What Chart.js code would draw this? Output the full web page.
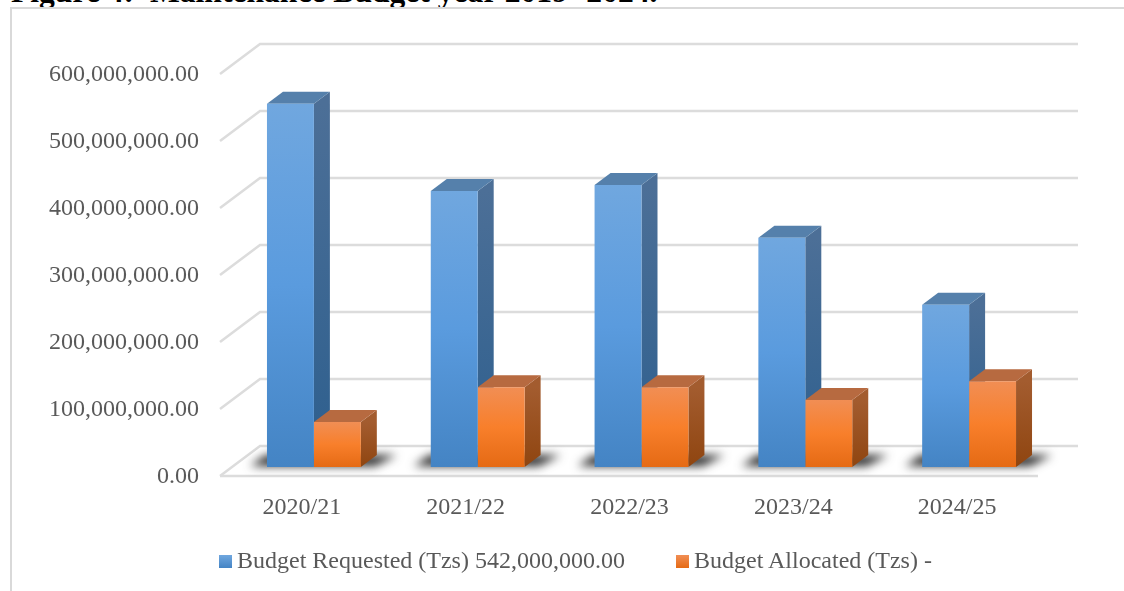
<!DOCTYPE html>
<html>
<head>
<meta charset="utf-8">
<title>Maintenance Budget</title>
<script src="https://cdn.jsdelivr.net/npm/chart.js@4"></script>
<style>
  html, body { margin: 0; padding: 0; background: #fff; overflow: hidden; }
  #wrap { position: relative; width: 1124px; height: 591px; overflow: hidden; font-family: "Liberation Serif", serif; }
  #heading { position: absolute; left: 11px; top: -26px; font-size: 31.6px; font-weight: bold; color: #000; white-space: pre; }
  #frame { position: absolute; left: 10px; top: 7px; width: 1114px; height: 584px; border-left: 2px solid #d9d9d9; border-top: 2px solid #d9d9d9; box-sizing: border-box; }
  canvas { position: absolute; left: 0; top: 0; }
  .key { position: absolute; top: 547px; font-size: 24px; color: #595959; white-space: nowrap; }
  .key i { position: absolute; left: -18px; top: 8px; width: 13px; height: 13px; }
</style>
</head>
<body>
<div id="wrap">
  <div id="heading">Figure 4:  Maintenance Budget year 2019- 2024.</div>
  <div id="frame"></div>
  <canvas id="myChart" width="1124" height="591"></canvas>
  <div id="legend"></div>
</div>
<script>
// labels along the x-axis
var years = ["2020/21", "2021/22", "2022/23", "2023/24", "2024/25"];
// bar heights, Tzs
var requested = [542000000, 412000000, 421000000, 342000000, 242000000];
var allocated = [67000000, 119000000, 119000000, 100000000, 128000000];
// tick labels on the y-axis
var yTicks = [0, 100000000, 200000000, 300000000, 400000000, 500000000, 600000000];
var requestedLabel = "Budget Requested (Tzs) 542,000,000.00";
var allocatedLabel = "Budget Allocated (Tzs) -";

var GRID = "#dcdcdc";
var TEXT = "#595959";
// offset of the bar's back face from its front face
var DEPTH_X = 16, DEPTH_Y = -12;

var blue = { front: ["#70a7df", "#5a9bde", "#4484c4"], side: ["#4c6f97", "#2d5f8e"], top: "#5580ab" };
var orange = { front: ["#f18e54", "#f87f2b", "#e56a14"], side: ["#a35c2f", "#8f4510"], top: "#b76a40" };

function frontGradient(colors) {
  return function (c) {
    var area = c.chart.chartArea;
    if (!area || !c.element) return colors[1];
    var el = c.element, top = c.parsed ? c.chart.scales.y.getPixelForValue(c.parsed.y) : el.y;
    var g = c.chart.ctx.createLinearGradient(0, top, 0, area.bottom);
    g.addColorStop(0, colors[0]);
    g.addColorStop(0.5, colors[1]);
    g.addColorStop(1, colors[2]);
    return g;
  };
}

function poly(ctx, pts, fill) {
  ctx.beginPath();
  ctx.moveTo(pts[0][0], pts[0][1]);
  for (var i = 1; i < pts.length; i++) ctx.lineTo(pts[i][0], pts[i][1]);
  ctx.closePath();
  ctx.fillStyle = fill;
  ctx.fill();
}

// back wall, left wall and floor lines
var wallPlugin = {
  id: "walls",
  beforeDatasetsDraw: function (chart) {
    var ctx = chart.ctx, y = chart.scales.y, area = chart.chartArea;
    ctx.save();
    ctx.strokeStyle = GRID;
    ctx.lineWidth = 2.5;
    yTicks.forEach(function (v) {
      var py = y.getPixelForValue(v);
      ctx.beginPath();
      ctx.moveTo(area.left - 12, py + 9);
      ctx.lineTo(area.left + 28, py - 21);
      ctx.lineTo(area.right + 27, py - 21);
      ctx.stroke();
    });
    ctx.beginPath();
    ctx.moveTo(area.left - 12, area.bottom + 9);
    ctx.lineTo(area.right - 13, area.bottom + 9);
    ctx.stroke();
    ctx.restore();
  }
};

// cast shadows on the floor, then the top and side faces of each bar
var boxPlugin = {
  id: "boxes",
  beforeDatasetsDraw: function (chart) {
    var ctx = chart.ctx;
    var a = chart.getDatasetMeta(0).data, b = chart.getDatasetMeta(1).data;
    ctx.save();
    ctx.filter = "blur(5px)";
    a.forEach(function (bar, i) {
      var left = bar.x - bar.width / 2, right = b[i].x + b[i].width / 2, base = bar.base;
      poly(ctx, [[left - 17, base - 1], [left - 1, base - 12], [right + 36, base - 12], [right + 14, base - 1]], "#2a2a2a");
    });
    ctx.restore();
    [[a, blue], [b, orange]].forEach(function (set) {
      set[0].forEach(function (bar) {
        var r = bar.x + bar.width / 2, l = bar.x - bar.width / 2;
        var g = ctx.createLinearGradient(0, bar.y, 0, bar.base);
        g.addColorStop(0, set[1].side[0]);
        g.addColorStop(1, set[1].side[1]);
        poly(ctx, [[r, bar.y], [r + DEPTH_X, bar.y + DEPTH_Y], [r + DEPTH_X, bar.base + DEPTH_Y], [r, bar.base]], g);
        poly(ctx, [[l, bar.y], [l + DEPTH_X, bar.y + DEPTH_Y], [r + DEPTH_X, bar.y + DEPTH_Y], [r, bar.y]], set[1].top);
      });
    });
  }
};

// legend is laid out in the page so the swatch sits tight against its text
function addKey(left, text, colors) {
  var key = document.createElement("div");
  key.className = "key";
  key.style.left = left + "px";
  key.textContent = text;
  var box = document.createElement("i");
  box.style.background = "linear-gradient(" + colors[0] + "," + colors[2] + ")";
  key.appendChild(box);
  document.getElementById("legend").appendChild(key);
}
addKey(237, requestedLabel, blue.front);
addKey(694, allocatedLabel, orange.front);

var ctx = document.getElementById("myChart");
var myChart = new Chart(ctx, {
  type: "bar",
  data: {
    labels: years,
    datasets: [
      { label: requestedLabel, data: requested, backgroundColor: frontGradient(blue.front) },
      { label: allocatedLabel, data: allocated, backgroundColor: frontGradient(orange.front) }
    ]
  },
  options: {
    responsive: false,
    animation: false,
    categoryPercentage: 0.573,
    barPercentage: 1,
    layout: { padding: { top: 65, right: 73, left: 0, bottom: 0 } },
    plugins: { legend: { display: false }, title: { display: false }, tooltip: { enabled: false } },
    scales: {
      x: {
        grid: { display: false },
        border: { display: false },
        afterFit: function (scale) { scale.height = 124; },
        ticks: {
          color: TEXT,
          font: { family: "Liberation Serif", size: 24 },
          padding: 18,
          labelOffset: -12,
          maxRotation: 0
        }
      },
      y: {
        min: 0,
        max: 600000000,
        grid: { display: false, drawTicks: false },
        border: { display: false },
        afterFit: function (scale) { scale.width = 232; },
        afterBuildTicks: function (scale) {
          scale.ticks = yTicks.map(function (v) { return { value: v }; });
        },
        ticks: {
          color: TEXT,
          font: { family: "Liberation Serif", size: 24 },
          padding: 33,
          labelOffset: 10,
          callback: function (v) {
            return v.toLocaleString("en-US", { minimumFractionDigits: 2, maximumFractionDigits: 2 });
          }
        }
      }
    }
  },
  plugins: [wallPlugin, boxPlugin]
});
</script>
</body>
</html>
